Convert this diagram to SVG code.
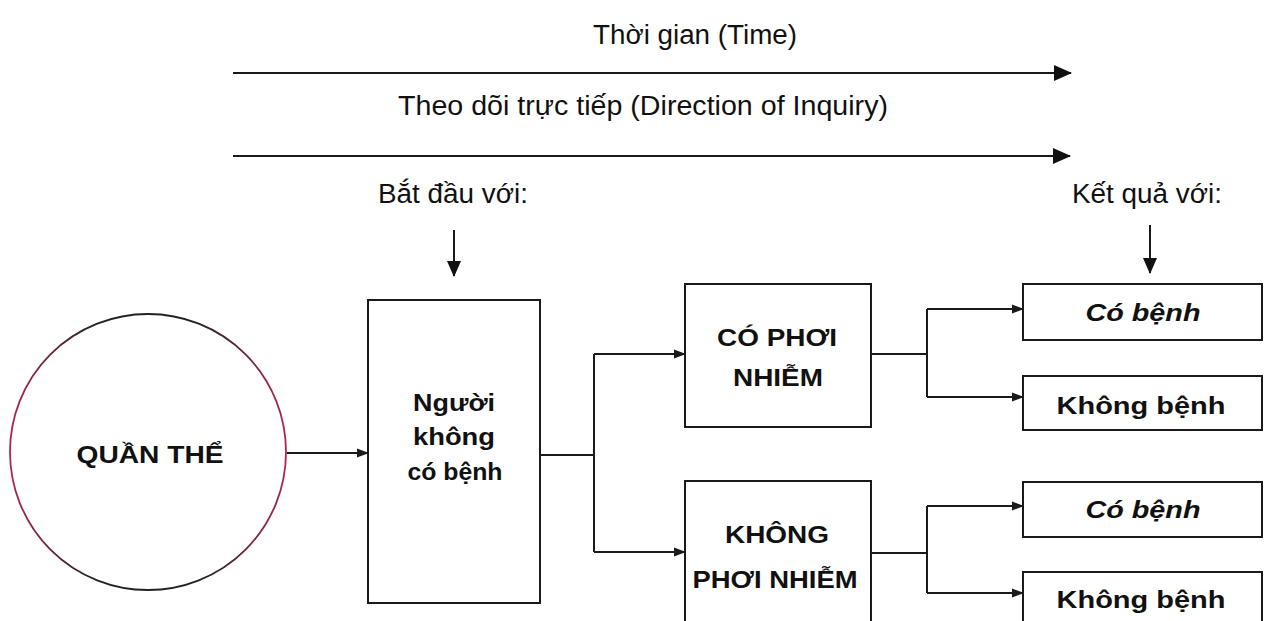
<svg xmlns="http://www.w3.org/2000/svg" width="1264" height="621" viewBox="0 0 1264 621">
  <defs>
    <style>
      .lbl { font-family: "Liberation Sans", Arial, sans-serif; font-size: 27px; fill: #111; text-anchor: middle; }
      .bold { font-family: "Liberation Sans", Arial, sans-serif; font-size: 24.5px; font-weight: bold; fill: #111; text-anchor: middle; }
      .ital { font-style: italic; }
      .box { fill: #fff; stroke: #1a1a1a; stroke-width: 2; }
      .wire { fill: none; stroke: #1a1a1a; stroke-width: 2; }
    </style>
    <marker id="tip" markerUnits="userSpaceOnUse" markerWidth="12" markerHeight="10" refX="11" refY="5" orient="auto">
      <path d="M0,0.5 L12,5 L0,9.5 z" fill="#1a1a1a"/>
    </marker>
    <marker id="bigTip" markerUnits="userSpaceOnUse" markerWidth="18" markerHeight="16" refX="17" refY="8" orient="auto">
      <path d="M0,0 L18,8 L0,16 z" fill="#111"/>
    </marker>
    <marker id="downTip" markerUnits="userSpaceOnUse" markerWidth="16" markerHeight="14" refX="15" refY="7" orient="auto">
      <path d="M0,0 L16,7 L0,14 z" fill="#111"/>
    </marker>
    <linearGradient id="ring" x1="0" y1="0" x2="1" y2="0">
      <stop offset="0" stop-color="#b02458"/>
      <stop offset="0.3" stop-color="#222"/>
      <stop offset="0.7" stop-color="#222"/>
      <stop offset="1" stop-color="#b02458"/>
    </linearGradient>
  </defs>

  <rect width="1264" height="621" fill="#fff"/>

  <!-- timeline headers -->
  <g id="timeline">
    <text class="lbl" x="695" y="44" textLength="204" lengthAdjust="spacingAndGlyphs">Thời gian (Time)</text>
    <line class="wire" x1="233" y1="73" x2="1071" y2="73" marker-end="url(#bigTip)"/>
    <text class="lbl" x="643" y="115" textLength="490" lengthAdjust="spacingAndGlyphs">Theo dõi trực tiếp (Direction of Inquiry)</text>
    <line class="wire" x1="233" y1="156" x2="1070" y2="156" marker-end="url(#bigTip)"/>
    <text class="lbl" x="453" y="203" textLength="150" lengthAdjust="spacingAndGlyphs">Bắt đầu với:</text>
    <line class="wire" x1="454" y1="230" x2="454" y2="276" marker-end="url(#downTip)"/>
    <text class="lbl" x="1147" y="203" textLength="150" lengthAdjust="spacingAndGlyphs">Kết quả với:</text>
    <line class="wire" x1="1150" y1="225" x2="1150" y2="273" marker-end="url(#downTip)"/>
  </g>

  <!-- population -->
  <g id="population">
    <circle cx="148" cy="452" r="138" fill="#fff" stroke="url(#ring)" stroke-width="1.8"/>
    <text class="bold" x="150" y="463" textLength="147" lengthAdjust="spacingAndGlyphs">QUẦN THỂ</text>
  </g>

  <!-- disease-free people -->
  <g id="disease-free">
    <rect class="box" x="368" y="300" width="172" height="303"/>
    <text class="bold" x="454" y="411" textLength="82" lengthAdjust="spacingAndGlyphs">Người</text>
    <text class="bold" x="454" y="445" textLength="82" lengthAdjust="spacingAndGlyphs">không</text>
    <text class="bold" x="455" y="480" textLength="95" lengthAdjust="spacingAndGlyphs">có bệnh</text>
  </g>

  <!-- exposed -->
  <g id="exposed">
    <rect class="box" x="685" y="284" width="186" height="143"/>
    <text class="bold" x="777" y="346" textLength="120" lengthAdjust="spacingAndGlyphs">CÓ PHƠI</text>
    <text class="bold" x="778" y="386" textLength="90" lengthAdjust="spacingAndGlyphs">NHIỄM</text>
  </g>

  <!-- unexposed -->
  <g id="unexposed">
    <rect class="box" x="685" y="481" width="186" height="160"/>
    <text class="bold" x="777" y="543" textLength="104" lengthAdjust="spacingAndGlyphs">KHÔNG</text>
    <text class="bold" x="775" y="588" textLength="165" lengthAdjust="spacingAndGlyphs">PHƠI NHIỄM</text>
  </g>

  <!-- outcomes -->
  <g id="exposed-diseased">
    <rect class="box" x="1023" y="284" width="239" height="56"/>
    <text class="bold ital" x="1143" y="321" textLength="115" lengthAdjust="spacingAndGlyphs">Có bệnh</text>
  </g>
  <g id="exposed-healthy">
    <rect class="box" x="1023" y="376" width="239" height="54"/>
    <text class="bold" x="1141" y="414" textLength="169" lengthAdjust="spacingAndGlyphs">Không bệnh</text>
  </g>
  <g id="unexposed-diseased">
    <rect class="box" x="1023" y="482" width="239" height="55"/>
    <text class="bold ital" x="1143" y="518" textLength="115" lengthAdjust="spacingAndGlyphs">Có bệnh</text>
  </g>
  <g id="unexposed-healthy">
    <rect class="box" x="1023" y="572" width="239" height="70"/>
    <text class="bold" x="1141" y="608" textLength="169" lengthAdjust="spacingAndGlyphs">Không bệnh</text>
  </g>

  <!-- connectors -->
  <g id="connectors">
    <line class="wire" x1="287" y1="453" x2="368" y2="453" marker-end="url(#tip)"/>
    <path class="wire" d="M540,455 H594"/>
    <path class="wire" d="M594,354 V552"/>
    <line class="wire" x1="594" y1="354" x2="685" y2="354" marker-end="url(#tip)"/>
    <line class="wire" x1="594" y1="552" x2="685" y2="552" marker-end="url(#tip)"/>

    <path class="wire" d="M871,354 H927 M927,309 V397"/>
    <line class="wire" x1="927" y1="309" x2="1023" y2="309" marker-end="url(#tip)"/>
    <line class="wire" x1="927" y1="397" x2="1023" y2="397" marker-end="url(#tip)"/>

    <path class="wire" d="M871,553 H927 M927,506 V593"/>
    <line class="wire" x1="927" y1="506" x2="1023" y2="506" marker-end="url(#tip)"/>
    <line class="wire" x1="927" y1="593" x2="1023" y2="593" marker-end="url(#tip)"/>
  </g>
</svg>
